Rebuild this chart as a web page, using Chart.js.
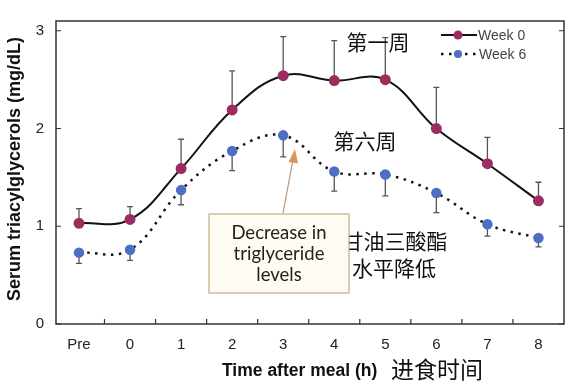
<!DOCTYPE html>
<html>
<head>
<meta charset="utf-8">
<script src="https://cdn.jsdelivr.net/npm/chart.js@4.4.1/dist/chart.umd.min.js"></script>
<style>
  html, body { margin: 0; padding: 0; background: #fff; }
  #wrap { width: 580px; height: 388px; }
</style>
</head>
<body>
<div id="wrap"><canvas id="chart" width="580" height="388"></canvas></div>
<script>
// values
const categories = ['Pre', '0', '1', '2', '3', '4', '5', '6', '7', '8'];
const week0 = [1.03, 1.07, 1.59, 2.19, 2.54, 2.49, 2.50, 2.00, 1.64, 1.26];
const week0Upper = [1.18, 1.20, 1.89, 2.59, 2.94, 2.90, 2.93, 2.42, 1.91, 1.45];
const week6 = [0.73, 0.76, 1.37, 1.77, 1.93, 1.56, 1.53, 1.34, 1.02, 0.88];
const week6Lower = [0.62, 0.65, 1.22, 1.57, 1.71, 1.36, 1.31, 1.14, 0.90, 0.79];
const yTicks = [0, 1, 2, 3];

const xPos = categories.map((c, i) => i - 1);
const toPoints = arr => arr.map((v, i) => ({x: xPos[i], y: v}));

const maroon = '#9c2d63';
const blue = '#4d6fc4';
const dotDash = [2.5, 5.5];

const deco = {
    id: 'deco',
    beforeDatasetsDraw(chart) {
        const ctx = chart.ctx;
        const xs = chart.scales.x, ys = chart.scales.y;
        ctx.save();
        ctx.strokeStyle = '#555';
        ctx.lineWidth = 1.3;
        //error bars: week 0 upward, week 6 downward
        [[week0, week0Upper], [week6, week6Lower]].forEach(pair => {
            pair[0].forEach((v, i) => {
                const px = xs.getPixelForValue(xPos[i]);
                const y1 = ys.getPixelForValue(v);
                const y2 = ys.getPixelForValue(pair[1][i]);
                ctx.beginPath();
                ctx.moveTo(px, y1);
                ctx.lineTo(px, y2);
                ctx.moveTo(px - 3, y2);
                ctx.lineTo(px + 3, y2);
                ctx.stroke();
            });
        });
        ctx.restore();
    },
    afterDraw(chart) {
        const ctx = chart.ctx;
        const a = chart.chartArea;
        const xs = chart.scales.x, ys = chart.scales.y;
        ctx.save();

        //frame
        ctx.strokeStyle = '#333';
        ctx.lineWidth = 1.5;
        ctx.strokeRect(a.left, a.top, a.right - a.left, a.bottom - a.top);

        //inside tick marks
        ctx.lineWidth = 1.2;
        ctx.beginPath();
        yTicks.forEach(t => {
            const py = ys.getPixelForValue(t);
            ctx.moveTo(a.left, py); ctx.lineTo(a.left + 5, py);
            ctx.moveTo(a.right, py); ctx.lineTo(a.right - 5, py);
        });
        for (let i = 0; i < categories.length - 1; i++) {
            const px = xs.getPixelForValue(xPos[i] + 0.5);
            ctx.moveTo(px, a.bottom); ctx.lineTo(px, a.bottom - 5);
        }
        ctx.stroke();

        //axis titles
        ctx.fillStyle = '#111';
        ctx.save();
        ctx.translate(15, 169);
        ctx.rotate(-Math.PI / 2);
        ctx.font = 'bold 18px "Liberation Sans", Arial, sans-serif';
        ctx.textAlign = 'center';
        ctx.textBaseline = 'middle';
        ctx.fillText('Serum triacylglycerols (mg/dL)', 0, 0);
        ctx.restore();

        ctx.textAlign = 'left';
        ctx.textBaseline = 'alphabetic';
        ctx.font = 'bold 17.5px "Liberation Sans", Arial, sans-serif';
        ctx.fillText('Time after meal (h)', 222, 376);
        ctx.font = '23px "Noto Sans CJK SC", sans-serif';
        ctx.fillText('进食时间', 391, 378);

        //legend
        ctx.lineWidth = 2;
        ctx.strokeStyle = '#111';
        ctx.beginPath(); ctx.moveTo(441, 35); ctx.lineTo(477, 35); ctx.stroke();
        ctx.setLineDash(dotDash);
        ctx.lineWidth = 2.5;
        ctx.beginPath(); ctx.moveTo(441, 54); ctx.lineTo(477, 54); ctx.stroke();
        ctx.setLineDash([]);
        ctx.fillStyle = maroon;
        ctx.beginPath(); ctx.arc(458, 35, 4.5, 0, Math.PI * 2); ctx.fill();
        ctx.fillStyle = blue;
        ctx.beginPath(); ctx.arc(458, 54, 4, 0, Math.PI * 2); ctx.fill();
        ctx.fillStyle = '#444';
        ctx.font = '14px "Liberation Sans", Arial, sans-serif';
        ctx.textBaseline = 'middle';
        ctx.fillText('Week 0', 478, 36);
        ctx.fillText('Week 6', 479, 55);

        //chinese labels
        ctx.fillStyle = '#111';
        ctx.font = '21px "Noto Sans CJK SC", sans-serif';
        ctx.textAlign = 'center';
        ctx.fillText('第一周', 378, 42);
        ctx.fillText('第六周', 365, 141);
        ctx.fillText('甘油三酸酯', 395, 241);
        ctx.fillText('水平降低', 394, 268);

        //callout box
        ctx.fillStyle = '#fffcf3';
        ctx.fillRect(209, 214, 140, 79);
        ctx.strokeStyle = '#c9ac86';
        ctx.lineWidth = 1.2;
        ctx.strokeRect(209, 214, 140, 79);
        ctx.fillStyle = '#222';
        ctx.font = '18.5px Lato, "Open Sans", sans-serif';
        ctx.fillText('Decrease in', 279, 233);
        ctx.fillText('triglyceride', 279, 254);
        ctx.fillText('levels', 279, 275);

        //arrow
        ctx.strokeStyle = '#b99573';
        ctx.lineWidth = 1.2;
        ctx.beginPath(); ctx.moveTo(283, 213); ctx.lineTo(293, 160); ctx.stroke();
        ctx.fillStyle = '#d9955a';
        ctx.beginPath();
        ctx.moveTo(295, 149);
        ctx.lineTo(288.5, 162);
        ctx.lineTo(298, 163.5);
        ctx.closePath();
        ctx.fill();

        ctx.restore();
    }
};

new Chart(document.getElementById('chart'), {
    type: 'line',
    data: {
        datasets: [
            {
                label: 'Week 0',
                data: toPoints(week0),
                borderColor: '#111',
                borderWidth: 2,
                tension: 0.4,
                pointRadius: 4.5,
                pointBackgroundColor: maroon,
                pointBorderColor: maroon,
                fill: false
            },
            {
                label: 'Week 6',
                data: toPoints(week6),
                borderColor: '#111',
                borderWidth: 2.5,
                borderDash: dotDash,
                tension: 0.4,
                pointRadius: 4,
                pointBackgroundColor: blue,
                pointBorderColor: blue,
                fill: false
            }
        ]
    },
    options: {
        responsive: false,
        animation: false,
        events: [],
        layout: {padding: {top: 13, right: 16, left: 0, bottom: 0}},
        plugins: {legend: {display: false}, tooltip: {enabled: false}},
        scales: {
            x: {
                type: 'linear',
                min: -1.45,
                max: 8.5,
                grid: {display: false, drawTicks: false},
                border: {display: false},
                afterBuildTicks: s => { s.ticks = xPos.map(v => ({value: v})); },
                afterFit: s => { s.height = 64; },
                ticks: {
                    padding: 12,
                    color: '#222',
                    font: {family: '"Liberation Sans", Arial, sans-serif', size: 15},
                    callback: v => categories[v + 1]
                }
            },
            y: {
                min: 0,
                max: 3.1,
                grid: {display: false, drawTicks: false},
                border: {display: false},
                afterBuildTicks: s => { s.ticks = yTicks.map(v => ({value: v})); },
                afterFit: s => { s.width = 56; },
                ticks: {
                    padding: 12,
                    color: '#222',
                    font: {family: '"Liberation Sans", Arial, sans-serif', size: 15}
                }
            }
        }
    },
    plugins: [deco]
});
</script>
</body>
</html>
